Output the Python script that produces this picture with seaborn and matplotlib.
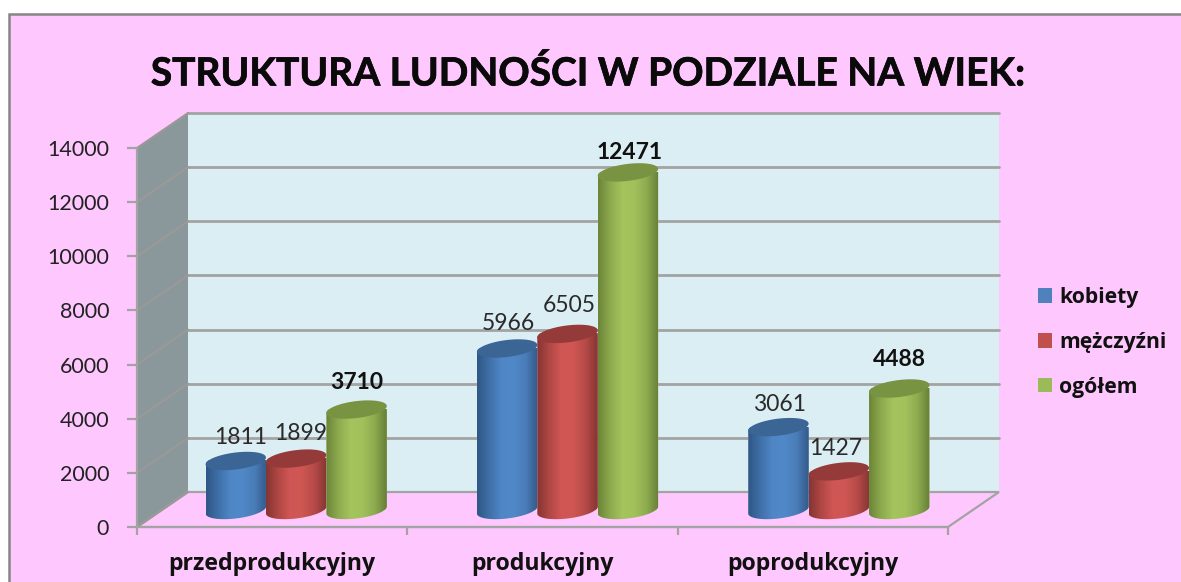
import numpy as np
import pandas as pd
import matplotlib
matplotlib.use("Agg")
import matplotlib.pyplot as plt
import matplotlib.patheffects as pe
from matplotlib.colors import LinearSegmentedColormap
from matplotlib.patches import Polygon, Rectangle
from matplotlib.path import Path
from matplotlib.transforms import IdentityTransform
import seaborn as sns

# ---- data ----
categories = ["przedprodukcyjny", "produkcyjny", "poprodukcyjny"]
series_names = ["kobiety", "mężczyźni", "ogółem"]
kobiety = [1811, 5966, 3061]
mezczyzni = [1899, 6505, 1427]
ogolem = [3710, 12471, 4488]
y_ticks = [0, 2000, 4000, 6000, 8000, 10000, 12000, 14000]
title_text = "STRUKTURA LUDNOŚCI W PODZIALE NA WIEK:"

# ---- style ----
W, H, DPI = 1181, 582, 100
PINK = "#FEC8FE"
WALL = "#DBEEF4"
SIDE = "#8A989C"
GRID = "#A3A3A3"
LEGEND_COLORS = ["#4F81BD", "#C0504D", "#9BBB59"]
BODY_RAMPS = [
    ["#2F5684", "#3F6FA8", "#4F86C6", "#5088C8", "#4A7DB8", "#33598A"],
    ["#843533", "#B04744", "#D05755", "#CE5653", "#B54A47", "#843533"],
    ["#6B8438", "#8DAA4E", "#A4C45D", "#A2C15B", "#8EAB4F", "#667E36"],
]
CAP_COLORS = ["#3A6594", "#943B39", "#789341"]
# label nudges (pixels) per category and series, kept apart from the data
label_nudge = [
    [(5, 23), (4, 25), (0, 27)],
    [(1, 25), (2, 28), (2, 20)],
    [(1, 23), (-3, 23), (0, 29)],
]

sns.set_style("white")
plt.rcParams["font.family"] = ["Lato", "DejaVu Sans"]
fig = plt.figure(figsize=(W / DPI, H / DPI), dpi=DPI, facecolor="white")


def px_axes(x0, y0, x1, y1):
    return fig.add_axes([x0 / W, 1 - y1 / H, (x1 - x0) / W, (y1 - y0) / H])


# chart area with its grey border (runs off the right and bottom of the picture)
fig.add_artist(Rectangle((9.5 / W, -0.05), 1.1, 1 - 14 / H + 0.05, transform=fig.transFigure,
                         facecolor=PINK, edgecolor="#858585", linewidth=1.8, zorder=-5))

# ---- front frame: value axis and category axis ----
ax = px_axes(137, 148, 948, 527)
ax.set_facecolor("none")
ax.set_xlim(0, 3)
ax.set_ylim(0, 14000)
ax.set_yticks(y_ticks)
ax.set_xticks([0, 1, 2, 3])
ax.set_xticklabels([])
ax.set_xticks([0.5, 1.5, 2.5], minor=True)
ax.set_xticklabels(categories, minor=True, fontsize=16.7, fontweight="bold", color="#111111",
                   family=["Open Sans", "DejaVu Sans"])
ax.tick_params(axis="x", which="minor", length=0, pad=18)
ax.tick_params(axis="x", which="major", length=6, width=1.6, color=GRID, bottom=True)
ax.tick_params(axis="y", length=7, width=1.6, color=GRID, left=True, labelsize=15.5,
               labelcolor="#222222", pad=13)
for side in ["top", "right"]:
    ax.spines[side].set_visible(False)
for side in ["left", "bottom"]:
    ax.spines[side].set_color(GRID)
    ax.spines[side].set_linewidth(1.6)

DX, DY = 51, 35
ident = IdentityTransform()
fl, fb = ax.transAxes.transform((0, 0))
fr, ft = ax.transAxes.transform((1, 1))
ax.add_patch(Polygon([(fl + DX, fb + DY), (fr + DX, fb + DY), (fr + DX, ft + DY), (fl + DX, ft + DY)],
                     transform=ident, facecolor=WALL, edgecolor="none", zorder=0, clip_on=False))
ax.add_patch(Polygon([(fl, fb), (fl + DX, fb + DY), (fl + DX, ft + DY), (fl, ft)],
                     transform=ident, facecolor=SIDE, edgecolor="none", zorder=0, clip_on=False))
ax.add_patch(Polygon([(fl, fb), (fr, fb), (fr + DX, fb + DY), (fl + DX, fb + DY)],
                     transform=ident, facecolor=PINK, edgecolor=GRID, linewidth=1.6,
                     zorder=0.5, clip_on=False))
for t in y_ticks:
    yp = ax.transData.transform((0, t))[1]
    col_side = "#9C9898"
    if t > 0:
        ax.plot([fl + DX, fr + DX], [yp + DY, yp + DY], transform=ident, color=GRID, lw=2.0,
                zorder=1, clip_on=False)
    ax.plot([fl, fl + DX], [yp, yp + DY], transform=ident, color=col_side, lw=1.5,
            zorder=1, clip_on=False)

# ---- bars, on their own axes standing a little behind the front frame ----
df = pd.DataFrame({
    "kategoria": categories * 3,
    "seria": sum([[n] * 3 for n in series_names], []),
    "wartosc": kobiety + mezczyzni + ogolem,
})
axb = px_axes(160.5, 131, 974.5, 510)
axb.patch.set_alpha(0)
sns.barplot(data=df, x="kategoria", y="wartosc", hue="seria", order=categories,
            hue_order=series_names, palette=LEGEND_COLORS, saturation=1, width=0.668, gap=0,
            estimator="sum", errorbar=None, ax=axb)
axb.set_xlim(-0.5, 2.5)
axb.set_ylim(0, 14000)
axb.autoscale(False)
axb.axis("off")

CAP_B = 8.5    # half height of a cap ellipse, px
TILT = 3.5     # rise of the cap's right end, px
theta = np.linspace(0, 2 * np.pi, 80)

for i, container in enumerate(axb.containers):
    cmap = LinearSegmentedColormap.from_list(f"c{i}", BODY_RAMPS[i])
    grad = np.linspace(0, 1, 256).reshape(1, -1)
    for j, bar in enumerate(container):
        x0, w, h = bar.get_x(), bar.get_width(), bar.get_height()
        xl, yb = axb.transData.transform((x0, 0))
        xr, yt = axb.transData.transform((x0 + w, h))
        cx, a = (xl + xr) / 2, (xr - xl) / 2
        # cylinder outline in display space: lower half of the base + top rim
        t1 = np.linspace(np.pi, 2 * np.pi, 60)
        lower = np.c_[cx + a * np.cos(t1), yb + CAP_B * np.sin(t1) + TILT * np.cos(t1)]
        t2 = np.linspace(0, np.pi, 60)
        upper = np.c_[cx + a * np.cos(t2), yt + CAP_B * np.sin(t2) + TILT * np.cos(t2)]
        body = Path(np.vstack([lower, upper, lower[:1]]), closed=True)
        bar.set_clip_path(body, ident)
        bar.set_clip_box(fig.bbox)
        y_low = axb.transData.inverted().transform((0, yb - 12))[1]
        im = axb.imshow(grad, cmap=cmap, aspect="auto", extent=(x0, x0 + w, y_low, h),
                        zorder=3 + i + j * 0.01, interpolation="bilinear")
        im.set_clip_path(body, ident)
        im.set_clip_box(fig.bbox)
        cap = np.c_[cx + a * np.cos(theta), yt + CAP_B * np.sin(theta) + TILT * np.cos(theta)]
        axb.add_patch(Polygon(cap, closed=True, transform=ident, facecolor=CAP_COLORS[i],
                              edgecolor="none", zorder=3.5 + i + j * 0.01, clip_on=False))
        nx, ny = label_nudge[j][i]
        axb.annotate(f"{int(h)}", xy=(x0 + w / 2, h), xytext=(nx * 0.72, ny * 0.72),
                     textcoords="offset points", ha="center", va="center",
                     fontsize=16.5,
                     fontweight="normal" if i < 2 else "bold",
                     color="#2A2A2A" if i < 2 else "#111111", zorder=10, annotation_clip=False)

axb.set_xlim(-0.5, 2.5)
axb.set_ylim(0, 14000)

# ---- legend ----
sns.move_legend(axb, loc="upper left", bbox_to_anchor=(1038 / W, 1 - 287 / H),
                bbox_transform=fig.transFigure, title=None, frameon=False, ncol=1,
                prop={"family": "Open Sans", "weight": "bold", "size": 15.2},
                handlelength=0.67, handleheight=0.67, handletextpad=0.33, labelspacing=1.13,
                borderpad=0, borderaxespad=0)
leg = axb.get_legend()
for txt in leg.get_texts():
    txt.set_color("#111111")
for handle in leg.get_patches():
    handle.set_edgecolor("none")

fig.text(588 / W, 1 - 73.5 / H, title_text, ha="center", va="center", fontsize=28,
         fontweight="bold", color="#0A0A0A",
         path_effects=[pe.withStroke(linewidth=0.5, foreground="#0A0A0A")])

fig.savefig("out.png", dpi=DPI, facecolor="white")
